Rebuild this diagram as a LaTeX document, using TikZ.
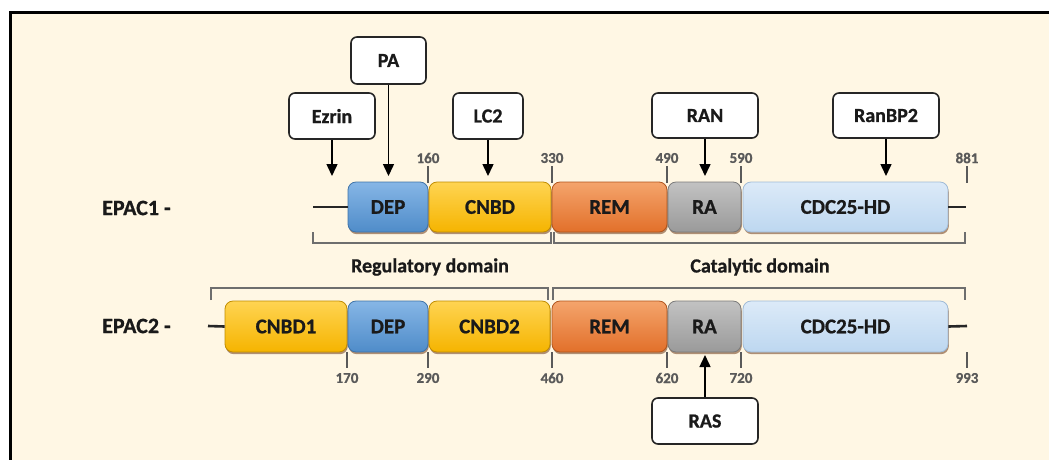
\documentclass[tikz,border=0pt]{standalone}
\usepackage{fontspec}
\setmainfont{Carlito}[BoldFeatures={FakeBold=0.8}]
\usetikzlibrary{arrows.meta,shadows}
\definecolor{cream}{HTML}{FFF7E4}
\definecolor{numgray}{HTML}{5A5A5A}
\definecolor{brgray}{HTML}{6E6E6E}
\definecolor{txt}{HTML}{1A1A1A}
\definecolor{depT}{HTML}{86B6E6}
\definecolor{depM}{HTML}{5E9DD8}
\definecolor{depB}{HTML}{4F8CC9}
\definecolor{depD}{HTML}{3F73A8}
\definecolor{cnT}{HTML}{FFD452}
\definecolor{cnM}{HTML}{FFC20E}
\definecolor{cnB}{HTML}{F5B400}
\definecolor{cnD}{HTML}{C08C00}
\definecolor{reT}{HTML}{F4A46C}
\definecolor{reM}{HTML}{EE7F35}
\definecolor{reB}{HTML}{E2702A}
\definecolor{reD}{HTML}{B0541C}
\definecolor{raT}{HTML}{C2C2C2}
\definecolor{raM}{HTML}{A8A8A8}
\definecolor{raB}{HTML}{9A9A9A}
\definecolor{raD}{HTML}{7A7A7A}
\definecolor{cdT}{HTML}{DCEAF8}
\definecolor{cdM}{HTML}{98C0E6}
\definecolor{cdB}{HTML}{BDD7F0}
\definecolor{cdD}{HTML}{9FBAD6}
\definecolor{shd}{HTML}{7A4A2A}
\tikzset{
  dom/.style={rounded corners=8pt, minimum height=50pt, inner sep=0pt, text=txt,
    font=\fontsize{21}{23}\selectfont\bfseries, line width=0.8pt,
    drop shadow={shadow xshift=0.8pt, shadow yshift=-2.2pt, fill=shd, opacity=0.6}},
  depc/.style={dom, draw=depD, top color=depT, middle color=depM, bottom color=depB},
  cnbdc/.style={dom, draw=cnD, top color=cnT, middle color=cnM, bottom color=cnB},
  remc/.style={dom, draw=reD, top color=reT, middle color=reM, bottom color=reB},
  rac/.style={dom, draw=raD, top color=raT, middle color=raM, bottom color=raB},
  cdcc/.style={dom, draw=cdD, top color=cdT, middle color=cdM, bottom color=cdB},
  lig/.style={draw=black!85, fill=white, rounded corners=6pt, line width=1.6pt,
    inner sep=0pt, font=\fontsize{20}{22}\selectfont\bfseries, text=txt},
  arr/.style={-{Triangle[width=11pt,length=12pt]}, line width=1.5pt, black},
  tick/.style={numgray, line width=2.6pt},
  num/.style={text=numgray, font=\fontsize{15}{17}\selectfont\bfseries, inner sep=0pt},
  brk/.style={brgray, line width=2pt},
  bb/.style={line width=2.6pt, black!85},
  lab/.style={font=\fontsize{20}{22}\selectfont\bfseries, text=txt, inner sep=0pt},
}
\begin{document}
\begin{tikzpicture}[x=1pt,y=-1pt]
\useasboundingbox (0,0) rectangle (1049,459);
\clip (0,0) rectangle (1049,459);
\fill[white] (0,0) rectangle (1049,459);
\draw[line width=3pt, fill=cream] (10,12) rectangle (1100,520);

% labels
\node[lab, anchor=west, font=\fontsize{22}{24}\selectfont\bfseries] (e1) at (102,208) {EPAC1 -};
\node[lab, anchor=west, font=\fontsize{22}{24}\selectfont\bfseries] (e2) at (102,326) {EPAC2 -};

% EPAC1 backbone
\coordinate (l1a) at (313,207);
\coordinate (l1b) at (966,207);
\node[depc, minimum width=80pt] (dep1) at (388,207) {DEP};
\node[cnbdc, minimum width=122pt] (cnbd) at (490,207) {CNBD};
\node[remc, minimum width=115pt] (rem1) at (609.5,207) {REM};
\node[rac, minimum width=73pt] (ra1) at (704.5,207) {RA};
\node[cdcc, minimum width=205pt] (cdc1) at (845.5,207) {CDC25-HD};
\draw[bb] (l1a) -- (dep1.west);
\draw[bb] (cdc1.east) -- (l1b);

% EPAC2 backbone
\coordinate (l2a) at (208,326);
\coordinate (l2b) at (967,326);
\node[cnbdc, minimum width=122pt, minimum height=51pt] (cnbd1) at (286,326.5) {CNBD1};
\node[depc, minimum width=80pt, minimum height=51pt] (dep2) at (388,326.5) {DEP};
\node[cnbdc, minimum width=121pt, minimum height=51pt] (cnbd2) at (489.5,326.5) {CNBD2};
\node[remc, minimum width=115pt, minimum height=51pt] (rem2) at (609.5,326.5) {REM};
\node[rac, minimum width=73pt, minimum height=51pt] (ra2) at (704.5,326.5) {RA};
\node[cdcc, minimum width=205pt, minimum height=51pt] (cdc2) at (845.5,326.5) {CDC25-HD};
\draw[bb] (l2a) -- (cnbd1.west);
\draw[bb] (cdc2.east) -- (l2b);

% EPAC1 ticks
\foreach \x/\n in {428/160, 552/330, 667/490, 741/590, 967/881}{
  \draw[tick] (\x,166) -- (\x,183);
  \node[num] at (\x,158) {\n};
}
% EPAC2 ticks
\foreach \x/\n in {347/170, 428/290, 552/460, 667/620, 741/720, 967/993}{
  \draw[tick] (\x,352) -- (\x,368);
  \node[num] at (\x,378) {\n};
}

% brackets
\draw[brk] (313,232) -- (313,243) -- (551,243) -- (551,232);
\draw[brk] (554,232) -- (554,243) -- (965,243) -- (965,232);
\draw[brk] (211,300) -- (211,288) -- (548,288) -- (548,300);
\draw[brk] (553,300) -- (553,288) -- (965,288) -- (965,300);
\node[lab] (reg) at (430,267) {Regulatory domain};
\node[lab] (cat) at (760,267) {Catalytic domain};

% ligands
\node[lig, minimum width=86pt, minimum height=46pt] (ezrin) at (332,116) {Ezrin};
\node[lig, minimum width=75pt, minimum height=47pt] (pa) at (388.5,60.5) {PA};
\node[lig, minimum width=70pt, minimum height=46pt] (lc2) at (488,116) {LC2};
\node[lig, minimum width=106pt, minimum height=45pt] (ran) at (705,115.5) {RAN};
\node[lig, minimum width=106pt, minimum height=45pt] (ranbp) at (886,115.5) {RanBP2};
\node[lig, minimum width=106pt, minimum height=46pt] (ras) at (705,421) {RAS};

\coordinate (tez) at (332,176);
\coordinate (tpa) at (388.5,176);
\coordinate (tlc) at (488,176);
\coordinate (tran) at (705,176);
\coordinate (trb) at (886,176);
\coordinate (tras) at (705,355);
\draw[arr] (ezrin.south) -- (tez);
\draw[arr] (pa.south) -- (tpa);
\draw[arr] (lc2.south) -- (tlc);
\draw[arr] (ran.south) -- (tran);
\draw[arr] (ranbp.south) -- (trb);
\draw[arr] (ras.north) -- (tras);
\end{tikzpicture}
\end{document}
